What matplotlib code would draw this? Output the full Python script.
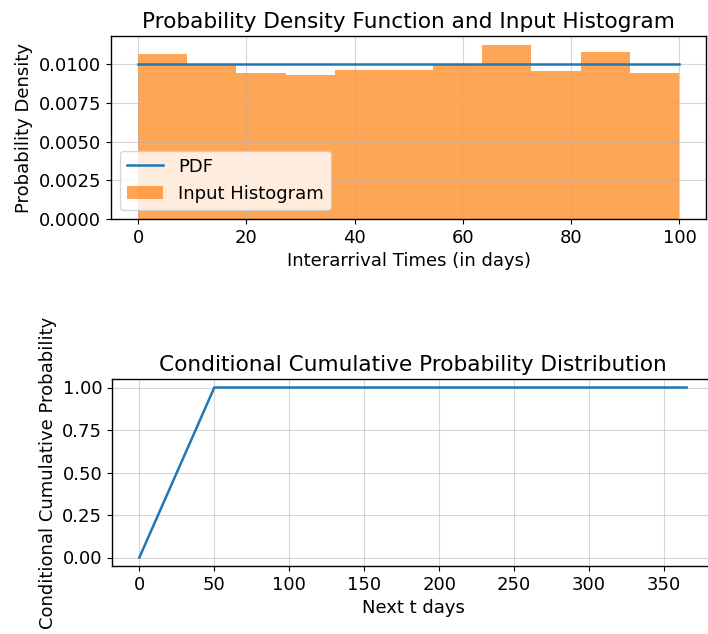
import matplotlib.pyplot as plt

# top panel: input histogram (density) and flat PDF
bin_edges = [0.0, 9.08, 18.16, 27.24, 36.32, 45.4, 54.48, 63.56, 72.64, 81.72, 90.8, 99.88]
hist_density = [0.01071, 0.01006, 0.00942, 0.00931, 0.00966, 0.00966,
                0.01002, 0.01128, 0.00955, 0.01083, 0.00942]
pdf_x = [0.0, 99.9]
pdf_y = [0.01002, 0.01002]

# bottom panel: conditional cumulative probability
cdf_t = [0, 50, 365]
cdf_p = [0.0, 1.0, 1.0]

plt.rcParams["font.size"] = 13
plt.rcParams["axes.linewidth"] = 1.0

fig = plt.figure(figsize=(7.08, 6.34), dpi=100)

ax1 = fig.add_axes([111 / 708, 1 - 219 / 634, (706 - 111) / 708, (219 - 36) / 634])
ax1.plot(pdf_x, pdf_y, color="C0", linewidth=1.8, label="PDF")
ax1.hist(bin_edges[:-1], bins=bin_edges, weights=hist_density,
         color="C1", alpha=0.7, label="Input Histogram")
ax1.set_title("Probability Density Function and Input Histogram", fontsize=15.6)
ax1.set_xlabel("Interarrival Times (in days)")
ax1.set_ylabel("Probability Density")
ax1.set_xticks([0, 20, 40, 60, 80, 100])
ax1.set_yticks([0, 0.0025, 0.005, 0.0075, 0.01])
ax1.set_yticklabels(["0.0000", "0.0025", "0.0050", "0.0075", "0.0100"])
ax1.grid(True, alpha=0.5)
ax1.legend(loc="lower left")

ax2 = fig.add_axes([112 / 708, 1 - 566 / 634, (714 - 112) / 708, (566 - 379) / 634])
ax2.plot(cdf_t, cdf_p, color="C0", linewidth=1.8)
ax2.set_title("Conditional Cumulative Probability Distribution", fontsize=15.6)
ax2.set_xlabel("Next t days")
ax2.set_ylabel("Conditional Cumulative Probability")
ax2.set_xticks([0, 50, 100, 150, 200, 250, 300, 350])
ax2.set_yticks([0, 0.25, 0.5, 0.75, 1.0])
ax2.grid(True, alpha=0.5)

plt.savefig("out.png", dpi=100)
